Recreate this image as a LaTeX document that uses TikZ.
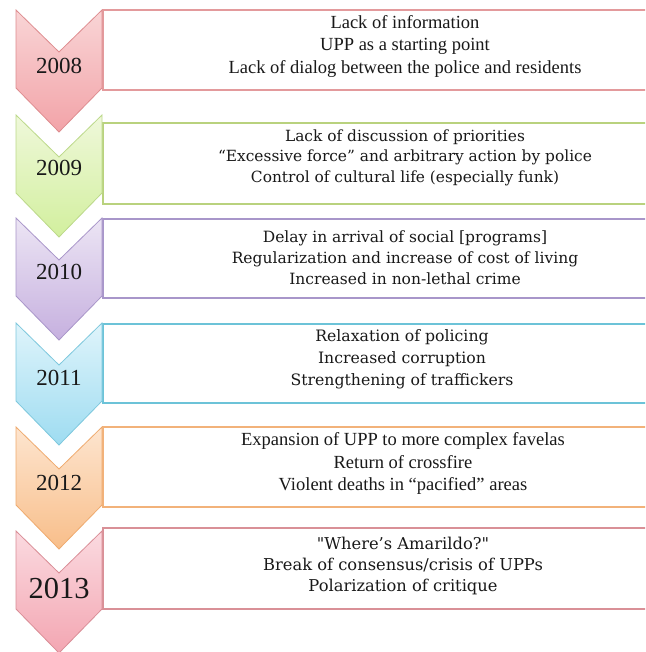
\documentclass[tikz,border=0pt]{standalone}
\usepackage{fontspec}
\setmainfont{Liberation Serif}
\newfontfamily\slabfont{DejaVu Serif}
\definecolor{rA}{HTML}{F9D5D6}\definecolor{rB}{HTML}{F2A3A8}\definecolor{rD}{HTML}{DE8C8F}\definecolor{rE}{HTML}{E39A9C}
\definecolor{gA}{HTML}{EFF8DA}\definecolor{gB}{HTML}{D2EF9E}\definecolor{gD}{HTML}{BCD98A}\definecolor{gE}{HTML}{B9D27E}
\definecolor{pA}{HTML}{ECE5F4}\definecolor{pB}{HTML}{C6B0DF}\definecolor{pD}{HTML}{A895C9}\definecolor{pE}{HTML}{A896CA}
\definecolor{cA}{HTML}{DFF4FB}\definecolor{cB}{HTML}{9EDCF1}\definecolor{cD}{HTML}{7EC8DD}\definecolor{cE}{HTML}{6CC3D8}
\definecolor{oA}{HTML}{FDE5CF}\definecolor{oB}{HTML}{F8BE8A}\definecolor{oD}{HTML}{EFAA6E}\definecolor{oE}{HTML}{F2B27A}
\definecolor{mA}{HTML}{FBDAE0}\definecolor{mB}{HTML}{F3A6B2}\definecolor{mD}{HTML}{D98D96}\definecolor{mE}{HTML}{D99097}
\newcommand\chevpath[1]{(16,#1) -- (59,#1+42) -- (102,#1) -- (102,#1+78) -- (59,#1+122) -- (16,#1+78) -- cycle}
\begin{document}
\begin{tikzpicture}[x=1pt,y=-1pt,
  chev/.style={line width=0.8pt, line join=miter},
  itembox/.style={draw, line width=1.6pt, minimum width=606pt, inner sep=0pt, anchor=north west},
  itemtext/.style={align=center, inner sep=0pt, text=black!90},
  timestext/.style={itemtext, font=\fontsize{18.5}{22.5}\selectfont},
  slabtext/.style={itemtext, font=\slabfont\fontsize{15.5}{21}\selectfont},
  yeartext/.style={inner sep=0pt, text=black!90, font=\fontsize{23}{23}\selectfont}]
\useasboundingbox (0,0) rectangle (645,652);
\clip (0,0) rectangle (645,652);
\fill[white] (0,0) rectangle (645,652);
% boxes
\node[itembox, draw=rE, minimum height=80pt] (b1) at (102,9) {};
\node[itembox, draw=gE, minimum height=81pt] (b2) at (102,122) {};
\node[itembox, draw=pE, minimum height=79pt] (b3) at (102,218) {};
\node[itembox, draw=cE, minimum height=79pt] (b4) at (102,323) {};
\node[itembox, draw=oE, minimum height=80pt] (b5) at (102,426) {};
\node[itembox, draw=mE, minimum height=81pt] (b6) at (102,527) {};
% chevrons
\path[chev, draw=rD, top color=rA, bottom color=rB] \chevpath{10};
\path[chev, draw=gD, top color=gA, bottom color=gB] \chevpath{115};
\path[chev, draw=pD, top color=pA, bottom color=pB] \chevpath{218};
\path[chev, draw=cD, top color=cA, bottom color=cB] \chevpath{323};
\path[chev, draw=oD, top color=oA, bottom color=oB] \chevpath{427};
\path[chev, draw=mD, top color=mA, bottom color=mB] \chevpath{531};
% years
\node[yeartext] (y1) at (59,66) {2008};
\node[yeartext] (y2) at (59,168) {2009};
\node[yeartext] (y3) at (59,272) {2010};
\node[yeartext] (y4) at (59,378) {2011};
\node[yeartext] (y5) at (59,483) {2012};
\node[yeartext, font=\fontsize{30.5}{30.5}\selectfont] (y6) at (59,588) {2013};
% texts
\node[timestext] (t1) at (405,46) {Lack of information\\UPP as a starting point\\Lack of dialog between the police and residents};
\node[slabtext, font=\slabfont\fontsize{15.4}{20.5}\selectfont] (t2) at (405,157.5) {Lack of discussion of priorities\\“Excessive force” and arbitrary action by police\\Control of cultural life (especially funk)};
\node[slabtext] (t3) at (405,258) {Delay in arrival of social [programs]\\Regularization and increase of cost of living\\Increased in non-lethal crime};
\node[slabtext, font=\slabfont\fontsize{15.7}{22}\selectfont] (t4) at (402,359) {Relaxation of policing\\Increased corruption\\Strengthening of traffickers};
\node[timestext] (t5) at (403,463.5) {Expansion of UPP to more complex favelas\\Return of crossfire\\Violent deaths in “pacified” areas};
\node[slabtext, font=\slabfont\fontsize{16.3}{21}\selectfont] (t6) at (403,566) {"Where’s Amarildo?"\\Break of consensus/crisis of UPPs\\Polarization of critique};
\end{tikzpicture}
\end{document}
